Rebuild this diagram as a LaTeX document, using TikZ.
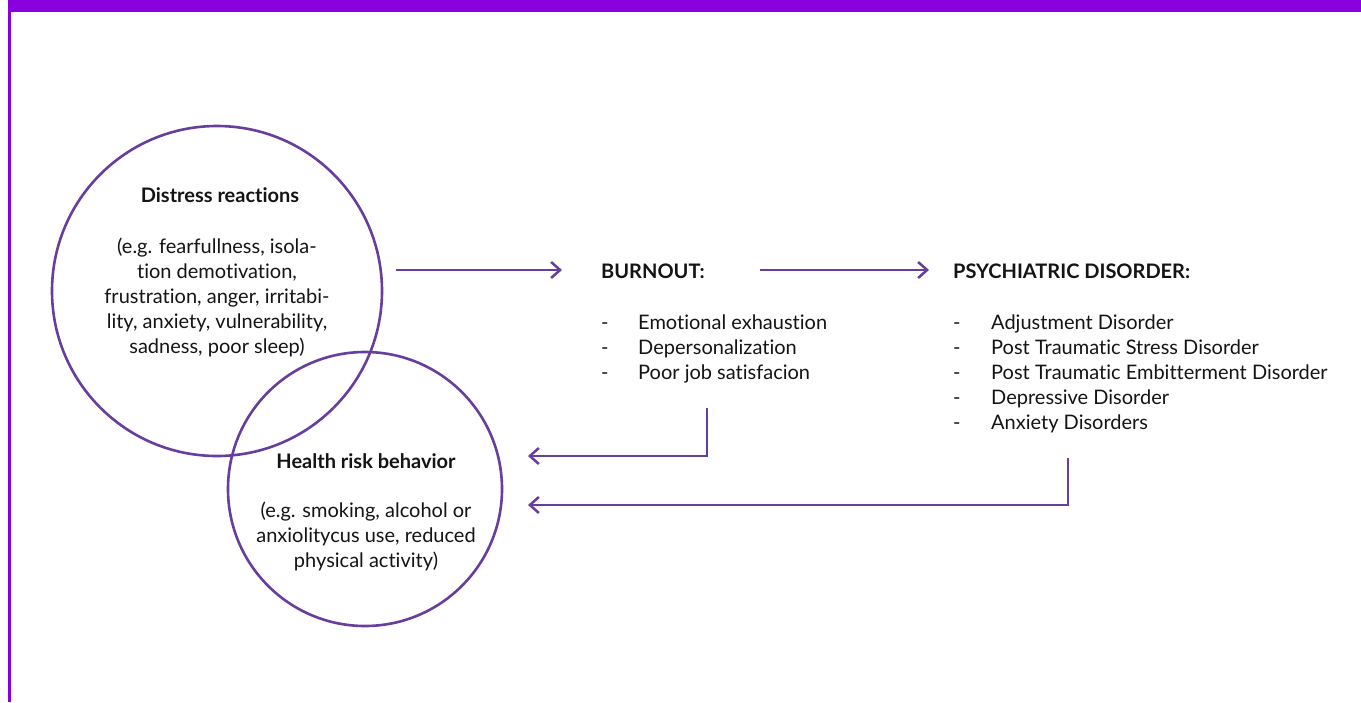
\documentclass[tikz,border=0pt]{standalone}
\usepackage{fontspec}
\setmainfont{Lato}[Ligatures=NoCommon]
\usetikzlibrary{arrows.meta}
\definecolor{barpurple}{RGB}{136,0,221}
\definecolor{linepurple}{RGB}{104,62,156}
\definecolor{txt}{RGB}{20,20,20}
\tikzset{
  ring/.style={circle, draw=linepurple, line width=2.6pt, inner sep=0pt},
  title/.style={font=\fontsize{20}{25}\selectfont\bfseries, text=txt, inner sep=0pt},
  body/.style={font=\fontsize{20}{25}\selectfont, text=txt, inner sep=0pt, align=center},
  item/.style={font=\fontsize{20}{25}\selectfont, text=txt, inner sep=0pt, anchor=base west},
  conn/.style={draw=linepurple, line width=2.5pt, -{Straight Barb[length=9pt,width=16pt,line width=2.5pt]}},
}
\begin{document}
\begin{tikzpicture}[x=1pt,y=-1pt]
\useasboundingbox (0,0) rectangle (1361,702);
% frame
\fill[barpurple] (8,0) rectangle (1361,12);
\fill[barpurple] (7.5,0) rectangle (10.5,702);
% circles
\node[ring, minimum size=330pt] (d) at (217,291) {};
\node[ring, minimum size=274pt] (h) at (365,489) {};
% distress text
\node[title, anchor=base] (dt) at (220,202) {Distress reactions};
\node[body, anchor=base] (db) at (217,353) {(e.g. fearfullness, isola-\\tion demotivation,\\frustration, anger, irritabi-\\lity, anxiety, vulnerability,\\sadness, poor sleep)};
% health text
\node[title, anchor=base] (ht) at (366,468) {Health risk behavior};
\node[body, anchor=base] (hb) at (366,567) {(e.g. smoking, alcohol or\\anxiolitycus use, reduced\\physical activity)};
% burnout
\node[title, anchor=base west] (b) at (601,278) {BURNOUT:};
\node[item] (b1) at (601,329) {\makebox[37pt][l]{-}Emotional exhaustion};
\node[item] (b2) at (601,354) {\makebox[37pt][l]{-}Depersonalization};
\node[item] (b3) at (601,379) {\makebox[37pt][l]{-}Poor job satisfacion};
% psychiatric
\node[title, anchor=base west] (p) at (953,278) {PSYCHIATRIC DISORDER:};
\node[item] (p1) at (953,329) {\makebox[38pt][l]{-}Adjustment Disorder};
\node[item] (p2) at (953,354) {\makebox[38pt][l]{-}Post Traumatic Stress Disorder};
\node[item] (p3) at (953,379) {\makebox[38pt][l]{-}Post Traumatic Embitterment Disorder};
\node[item] (p4) at (953,404) {\makebox[38pt][l]{-}Depressive Disorder};
\node[item] (p5) at (953,429) {\makebox[38pt][l]{-}Anxiety Disorders};
% connectors
\coordinate (a1s) at (396,270);
\coordinate (a1e) at (562,270);
\coordinate (a2s) at (760,270);
\coordinate (a2e) at (929,270);
\coordinate (a3s) at (707,408);
\coordinate (a3e) at (528,456);
\coordinate (a4s) at (1068,458);
\coordinate (a4e) at (528,505);
\draw[conn] (a1s) -- (a1e);
\draw[conn] (a2s) -- (a2e);
\draw[conn] (a3s) |- (a3e);
\draw[conn] (a4s) |- (a4e);
\end{tikzpicture}
\end{document}
